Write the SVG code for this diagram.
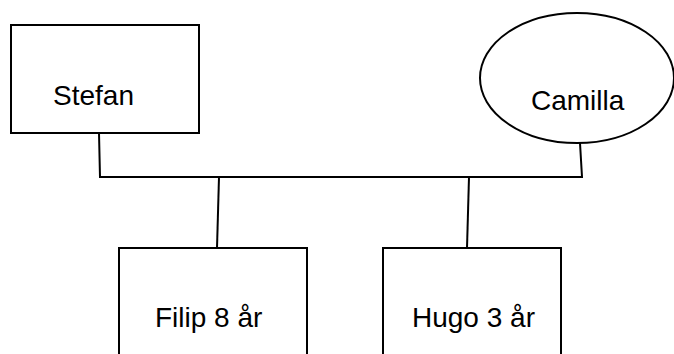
<svg xmlns="http://www.w3.org/2000/svg" width="674" height="354" viewBox="0 0 674 354">
<style>
.box{fill:#fff;stroke:#000;stroke-width:2}
.ln{fill:none;stroke:#000;stroke-width:2}
.t{font-family:"Liberation Sans",Arial,sans-serif;font-size:28px;fill:#000}
</style>
<rect width="674" height="354" fill="#fff"/>
<g id="connectors">
<path class="ln" d="M99 133 L100 177 L582 177 L580 143"/>
<path class="ln" d="M219 177 L217 248"/>
<path class="ln" d="M469 177 L467 248"/>
</g>
<g id="stefan">
<rect class="box" x="11" y="25" width="188" height="108"/>
<text class="t" x="53" y="105">Stefan</text>
</g>
<g id="camilla">
<ellipse class="box" cx="577" cy="78" rx="97" ry="65"/>
<text class="t" x="531" y="110">Camilla</text>
</g>
<g id="filip">
<rect class="box" x="119" y="248" width="188" height="130"/>
<text class="t" x="155" y="327">Filip 8 år</text>
</g>
<g id="hugo">
<rect class="box" x="383" y="248" width="178" height="130"/>
<text class="t" x="412" y="327">Hugo 3 år</text>
</g>
</svg>
